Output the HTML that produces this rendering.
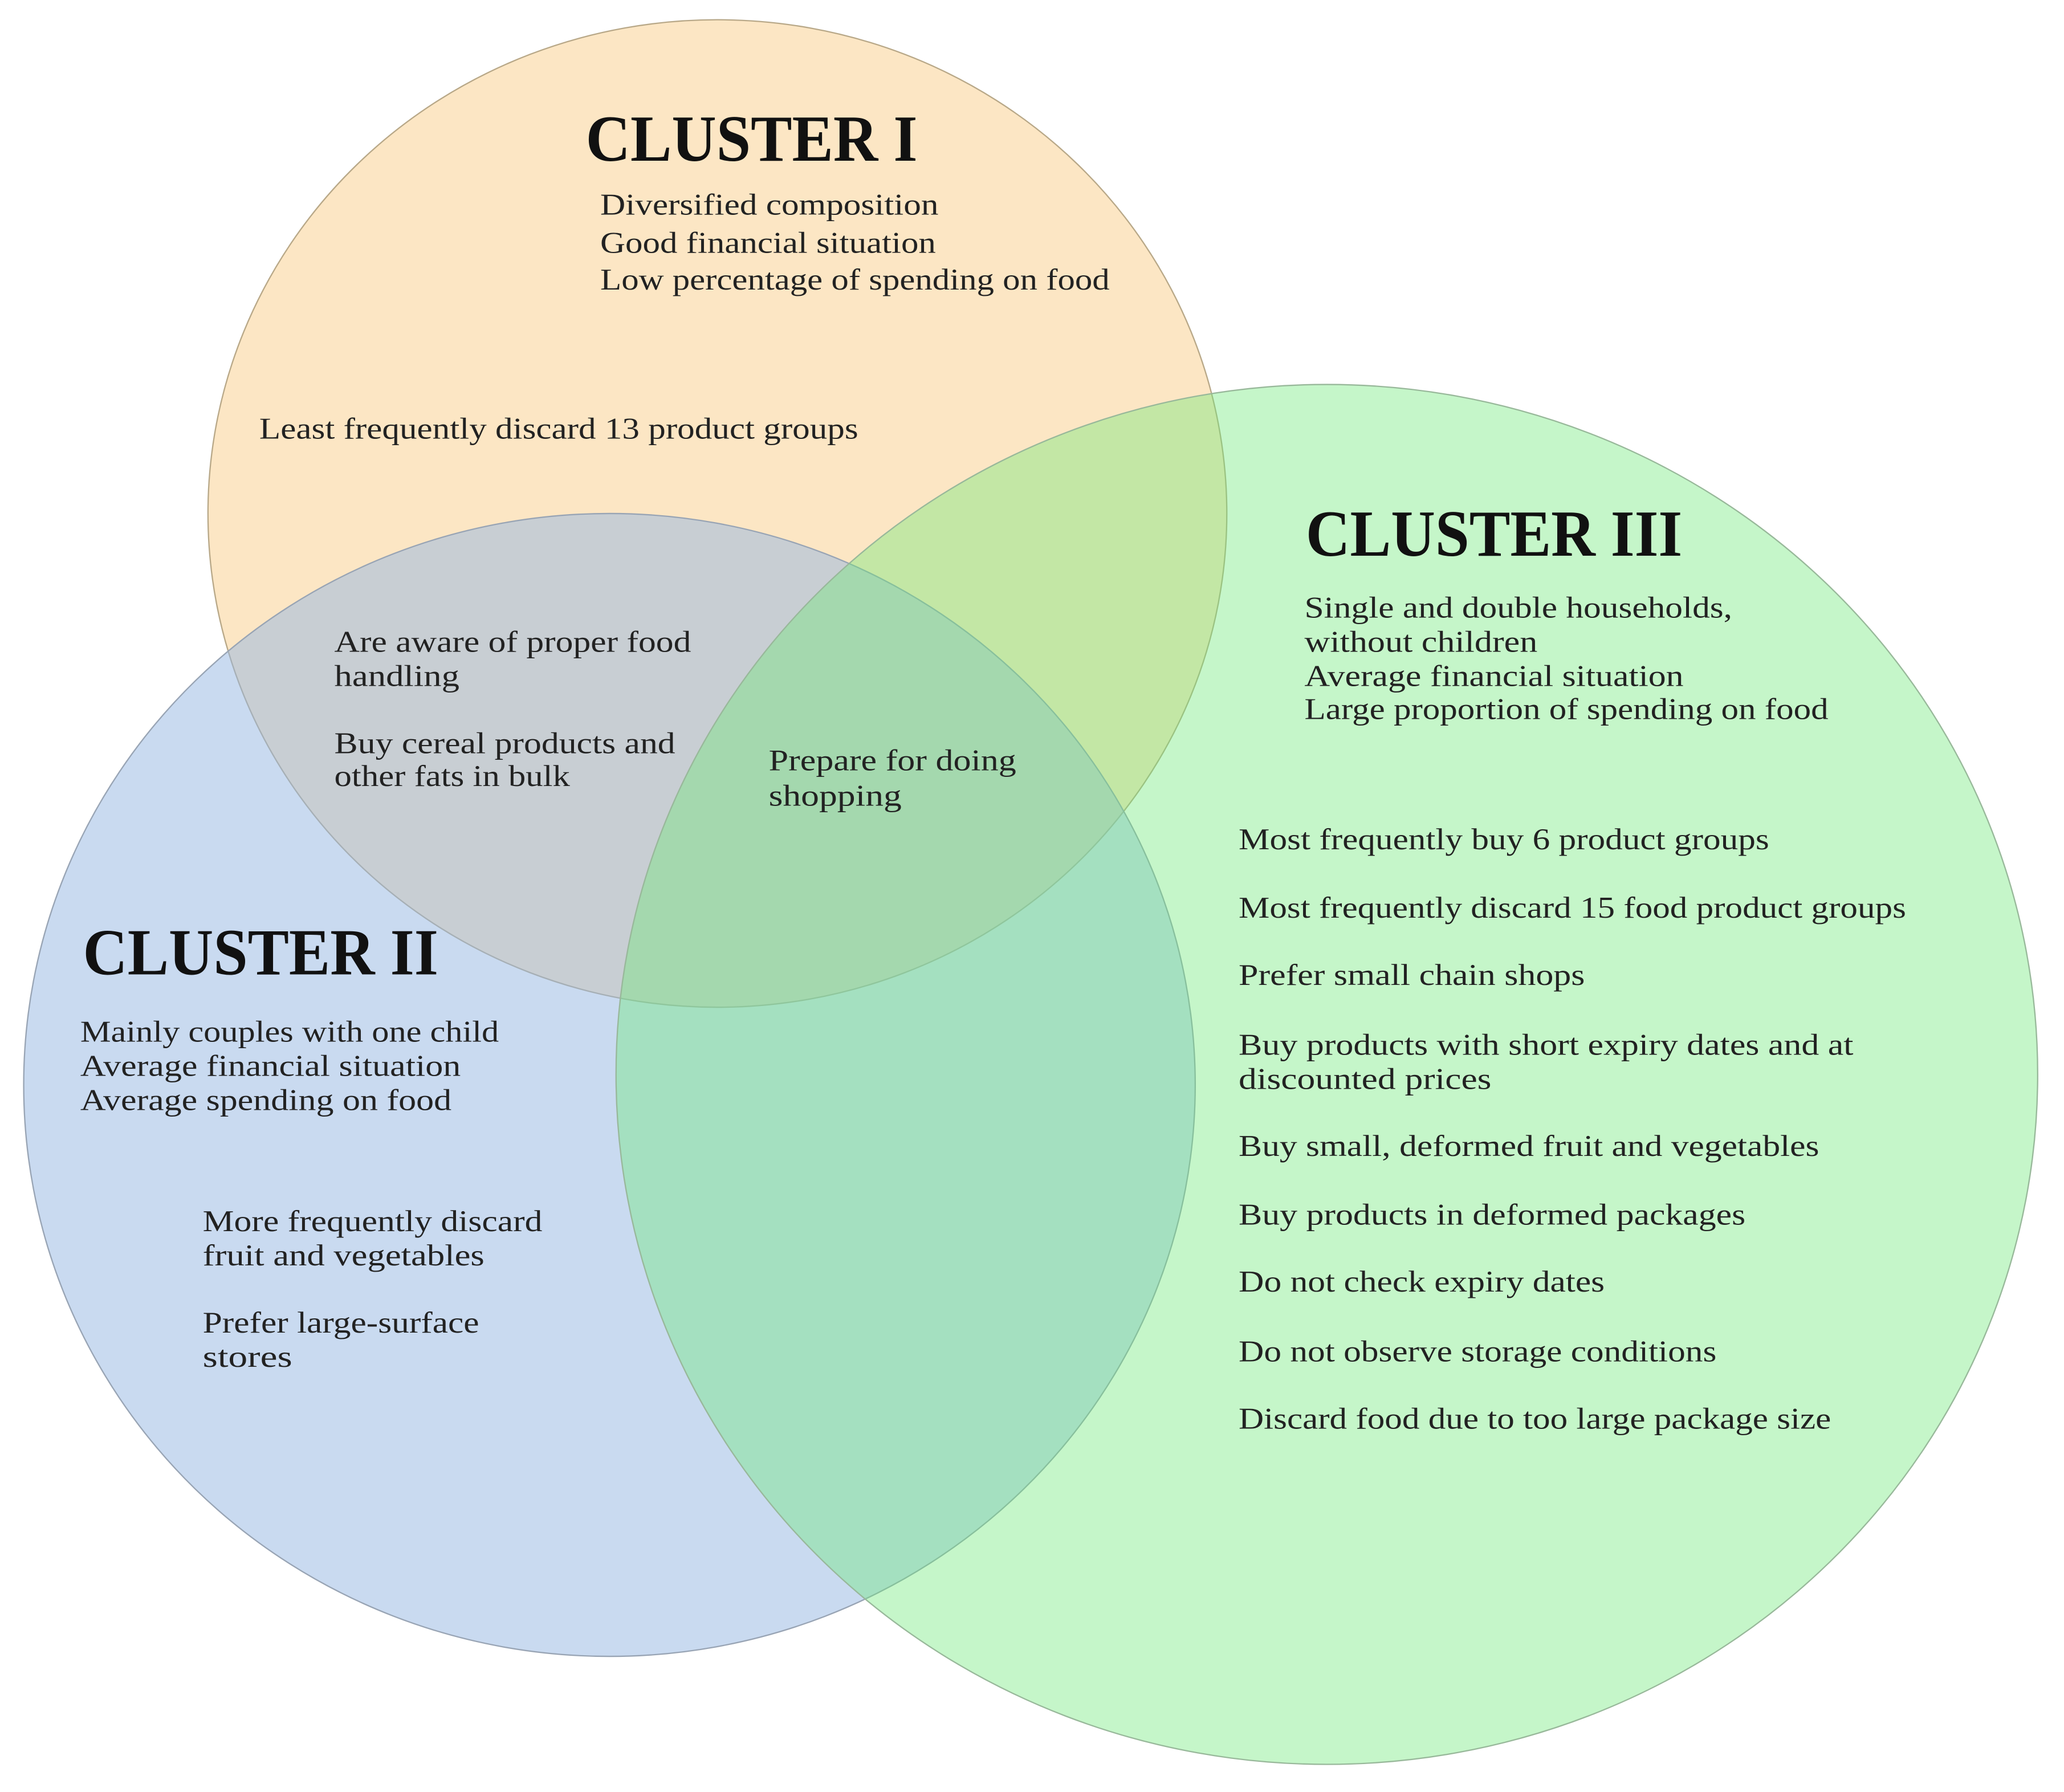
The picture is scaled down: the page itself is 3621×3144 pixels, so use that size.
<!DOCTYPE html>
<html><head><meta charset="utf-8"><style>html,body{margin:0;padding:0;background:#fff;}svg{display:block}</style></head>
<body>
<svg width="3621" height="3144" viewBox="0 0 1568 1361" preserveAspectRatio="none" xmlns="http://www.w3.org/2000/svg">
<rect width="1568" height="1361" fill="#fff"/>
<ellipse cx="545" cy="390" rx="387" ry="375" fill="#f9cd8a" fill-opacity="0.5" stroke="#b8a888" stroke-width="1"/>
<ellipse cx="463" cy="824" rx="445" ry="434" fill="#93b5e1" fill-opacity="0.5" stroke="#98a4b4" stroke-width="1"/>
<ellipse cx="1008" cy="816" rx="540" ry="524" fill="#6fe877" fill-opacity="0.4" stroke="#98b89a" stroke-width="1"/>
<g font-family="'Liberation Serif', serif" fill="#222">
<g font-size="50" font-weight="bold" fill="#111">
<text x="445" y="122" textLength="252" lengthAdjust="spacingAndGlyphs">CLUSTER I</text>
<text x="992" y="422" textLength="286" lengthAdjust="spacingAndGlyphs">CLUSTER III</text>
<text x="63" y="740" textLength="270" lengthAdjust="spacingAndGlyphs">CLUSTER II</text>
</g>
<g font-size="23">
<text x="456" y="163" textLength="257" lengthAdjust="spacingAndGlyphs">Diversified composition</text>
<text x="456" y="192" textLength="255" lengthAdjust="spacingAndGlyphs">Good financial situation</text>
<text x="456" y="220" textLength="387" lengthAdjust="spacingAndGlyphs">Low  percentage of spending on food</text>
<text x="197" y="333" textLength="455" lengthAdjust="spacingAndGlyphs">Least frequently discard 13 product groups</text>
<text x="254" y="495" textLength="271" lengthAdjust="spacingAndGlyphs">Are aware of proper food</text>
<text x="254" y="521" textLength="95" lengthAdjust="spacingAndGlyphs">handling</text>
<text x="254" y="572" textLength="259" lengthAdjust="spacingAndGlyphs">Buy  cereal products and</text>
<text x="254" y="597" textLength="179" lengthAdjust="spacingAndGlyphs">other fats in bulk</text>
<text x="584" y="585" textLength="188" lengthAdjust="spacingAndGlyphs">Prepare for doing</text>
<text x="584" y="612" textLength="101" lengthAdjust="spacingAndGlyphs">shopping</text>
<text x="991" y="469" textLength="325" lengthAdjust="spacingAndGlyphs">Single and double households,</text>
<text x="991" y="495" textLength="177" lengthAdjust="spacingAndGlyphs">without  children</text>
<text x="991" y="521" textLength="288" lengthAdjust="spacingAndGlyphs">Average financial situation</text>
<text x="991" y="546" textLength="398" lengthAdjust="spacingAndGlyphs">Large proportion of spending on food</text>
<text x="941" y="645" textLength="403" lengthAdjust="spacingAndGlyphs">Most frequently buy 6 product groups</text>
<text x="941" y="697" textLength="507" lengthAdjust="spacingAndGlyphs">Most frequently discard 15 food product groups</text>
<text x="941" y="748" textLength="263" lengthAdjust="spacingAndGlyphs">Prefer small chain shops</text>
<text x="941" y="801" textLength="467" lengthAdjust="spacingAndGlyphs">Buy products with  short expiry dates and at</text>
<text x="941" y="827" textLength="192" lengthAdjust="spacingAndGlyphs">discounted prices</text>
<text x="941" y="878" textLength="441" lengthAdjust="spacingAndGlyphs">Buy small, deformed fruit and vegetables</text>
<text x="941" y="930" textLength="385" lengthAdjust="spacingAndGlyphs">Buy products in deformed packages</text>
<text x="941" y="981" textLength="278" lengthAdjust="spacingAndGlyphs">Do not check expiry dates</text>
<text x="941" y="1034" textLength="363" lengthAdjust="spacingAndGlyphs">Do not observe storage conditions</text>
<text x="941" y="1085" textLength="450" lengthAdjust="spacingAndGlyphs">Discard food due to too large package size</text>
<text x="61" y="791" textLength="318" lengthAdjust="spacingAndGlyphs">Mainly  couples with one child</text>
<text x="61" y="817" textLength="289" lengthAdjust="spacingAndGlyphs">Average financial situation</text>
<text x="61" y="843" textLength="282" lengthAdjust="spacingAndGlyphs">Average spending on food</text>
<text x="154" y="935" textLength="258" lengthAdjust="spacingAndGlyphs">More frequently discard</text>
<text x="154" y="961" textLength="214" lengthAdjust="spacingAndGlyphs">fruit and vegetables</text>
<text x="154" y="1012" textLength="210" lengthAdjust="spacingAndGlyphs">Prefer large-surface</text>
<text x="154" y="1038" textLength="68" lengthAdjust="spacingAndGlyphs">stores</text>
</g>
</g>
</svg>
</body></html>
